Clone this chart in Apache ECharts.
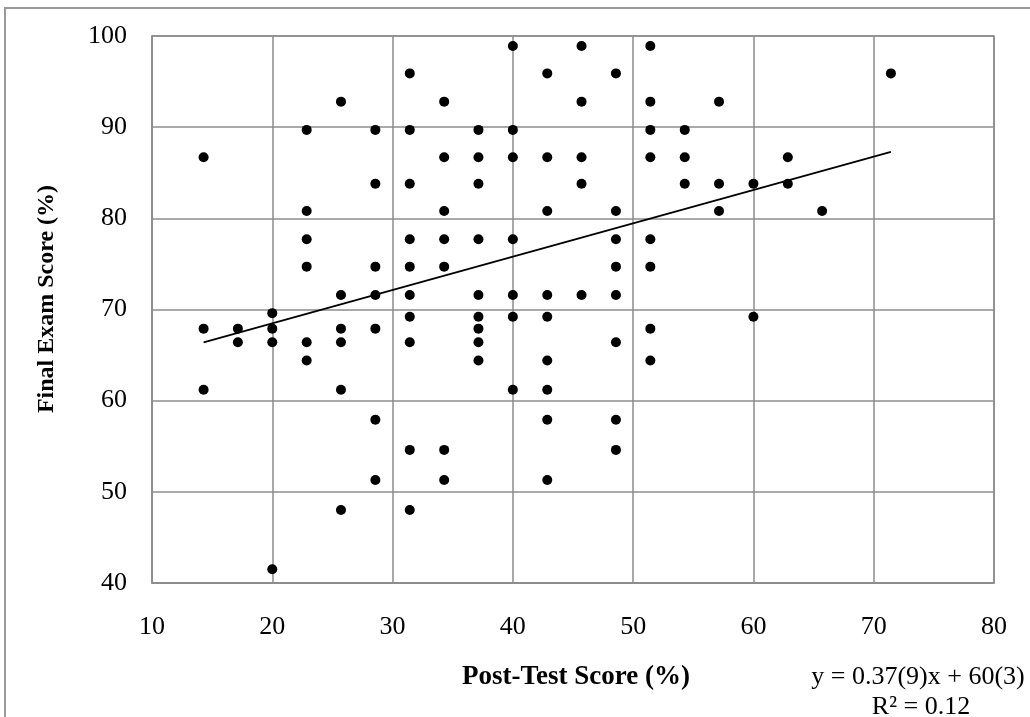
<!DOCTYPE html>
<html>
<head>
<meta charset="utf-8">
<script src="https://cdn.jsdelivr.net/npm/echarts@6/dist/echarts.min.js"></script>
<style>
html,body{margin:0;padding:0;background:#fff;}
#chart{width:1030px;height:717px;}
</style>
</head>
<body>
<div id="chart"></div>
<script>
// Post-test score (%) of each student
const postTestScores = [
  14.29, 14.29, 14.29,
  17.14, 17.14,
  20, 20, 20, 20,
  22.86, 22.86, 22.86, 22.86, 22.86, 22.86,
  25.71, 25.71, 25.71, 25.71, 25.71, 25.71,
  28.57, 28.57, 28.57, 28.57, 28.57, 28.57, 28.57,
  31.43, 31.43, 31.43, 31.43, 31.43, 31.43, 31.43, 31.43, 31.43, 31.43,
  34.29, 34.29, 34.29, 34.29, 34.29, 34.29, 34.29,
  37.14, 37.14, 37.14, 37.14, 37.14, 37.14, 37.14, 37.14, 37.14,
  40, 40, 40, 40, 40, 40, 40,
  42.86, 42.86, 42.86, 42.86, 42.86, 42.86, 42.86, 42.86, 42.86,
  45.71, 45.71, 45.71, 45.71, 45.71,
  48.57, 48.57, 48.57, 48.57, 48.57, 48.57, 48.57, 48.57,
  51.43, 51.43, 51.43, 51.43, 51.43, 51.43, 51.43, 51.43,
  54.29, 54.29, 54.29,
  57.14, 57.14, 57.14,
  60, 60,
  62.86, 62.86,
  65.71,
  71.43
];
// Final exam score (%) of the same students
const finalExamScores = [
  86.7, 67.9, 61.2,
  67.9, 66.4,
  69.6, 67.9, 66.4, 41.5,
  89.7, 80.8, 77.7, 74.7, 66.4, 64.4,
  92.8, 71.6, 67.9, 66.4, 61.2, 48.0,
  89.7, 83.8, 74.7, 71.6, 67.9, 57.9, 51.3,
  95.9, 89.7, 83.8, 77.7, 74.7, 71.6, 69.2, 66.4, 54.6, 48.0,
  92.8, 86.7, 80.8, 77.7, 74.7, 54.6, 51.3,
  89.7, 86.7, 83.8, 77.7, 71.6, 69.2, 67.9, 66.4, 64.4,
  98.9, 89.7, 86.7, 77.7, 71.6, 69.2, 61.2,
  95.9, 86.7, 80.8, 71.6, 69.2, 64.4, 61.2, 57.9, 51.3,
  98.9, 92.8, 86.7, 83.8, 71.6,
  95.9, 80.8, 77.7, 74.7, 71.6, 66.4, 57.9, 54.6,
  98.9, 92.8, 89.7, 86.7, 77.7, 74.7, 67.9, 64.4,
  89.7, 86.7, 83.8,
  92.8, 83.8, 80.8,
  83.8, 69.2,
  86.7, 83.8,
  80.8,
  95.9
];
// Linear trend line end points
const trendX = [14.29, 71.43];
const trendY = [66.4, 87.3];
// Axis ranges / ticks
const xTicks = [10, 20, 30, 40, 50, 60, 70, 80];
const yTicks = [40, 50, 60, 70, 80, 90, 100];
const xTitle = 'Post-Test Score (%)';
const yTitle = 'Final Exam Score (%)';
const equationLines = ['y = 0.37(9)x + 60(3)', 'R\u00B2 = 0.12'];

const points = postTestScores.map((x, i) => [x, finalExamScores[i]]);
const trend = trendX.map((x, i) => [x, trendY[i]]);

const FONT = '"Liberation Serif", "Times New Roman", serif';
const GRID = '#8c8c8c';

const chart = echarts.init(document.getElementById('chart'), null, {renderer: 'canvas'});
chart.setOption({
  backgroundColor: '#ffffff',
  animation: false,
  grid: {
    left: 152, right: 36, top: 36, bottom: 134,
    show: true, borderColor: GRID, borderWidth: 1.5, backgroundColor: 'transparent'
  },
  xAxis: {
    type: 'value',
    min: xTicks[0], max: xTicks[xTicks.length - 1], interval: 10,
    name: xTitle,
    nameLocation: 'middle',
    nameGap: 94,
    nameTextStyle: {fontFamily: FONT, fontSize: 27, fontWeight: 'bold', color: '#000', verticalAlign: 'middle', padding: [0, 0, 0, 6]},
    axisLine: {show: true, lineStyle: {color: GRID, width: 1.5}},
    axisTick: {show: false},
    axisLabel: {fontFamily: FONT, fontSize: 26, color: '#000', margin: 44, verticalAlign: 'middle'},
    splitLine: {show: true, lineStyle: {color: GRID, width: 1.5}}
  },
  yAxis: {
    type: 'value',
    min: yTicks[0], max: yTicks[yTicks.length - 1], interval: 10,
    axisLine: {show: true, lineStyle: {color: GRID, width: 1.5}},
    axisTick: {show: false},
    axisLabel: {fontFamily: FONT, fontSize: 26, color: '#000', margin: 25},
    splitLine: {show: true, lineStyle: {color: GRID, width: 1.5}}
  },
  series: [
    {
      type: 'line',
      data: trend,
      showSymbol: false,
      symbol: 'none',
      lineStyle: {color: '#000', width: 1.8},
      z: 2
    },
    {
      type: 'scatter',
      data: points,
      symbol: 'circle',
      symbolSize: 10,
      itemStyle: {color: '#000', opacity: 1},
      z: 3
    }
  ],
  graphic: [
    {
      type: 'rect',
      shape: {x: 5, y: 8, width: 1200, height: 900},
      style: {fill: 'none', stroke: '#9a9a9a', lineWidth: 2},
      silent: true, z: -1
    },
    {
      type: 'text', x: 47, y: 299, rotation: Math.PI / 2,
      style: {text: yTitle, font: 'bold 24px ' + FONT, fill: '#000', textAlign: 'center', textVerticalAlign: 'middle'}
    },
    {
      type: 'text', x: 918, y: 677,
      style: {text: equationLines[0], font: '26px ' + FONT, fill: '#000', textAlign: 'center', textVerticalAlign: 'middle'}
    },
    {
      type: 'text', x: 921, y: 707,
      style: {text: equationLines[1], font: '26px ' + FONT, fill: '#000', textAlign: 'center', textVerticalAlign: 'middle'}
    }
  ]
});
</script>
</body>
</html>
